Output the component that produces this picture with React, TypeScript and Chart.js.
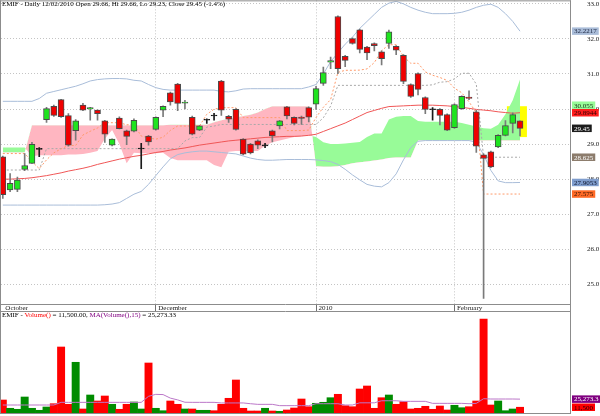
import React, { useEffect, useRef } from 'react';
import { Chart, registerables } from 'chart.js';

Chart.register(...registerables);

// ---------- data ----------
const opens = [
  28.64, 27.69, 27.71, 28.28, 28.45, 28.85, 29.70, 30.08, 30.27, 29.81,
  29.38, 30.11, 30.00, 29.97, 29.66, 28.97, 29.74, 29.38, 29.37, 28.86,
  29.23, 29.42, 29.97, 30.46, 30.71, 30.17, 29.76, 29.40, 29.68, 29.81,
  30.80, 29.79, 29.99, 29.14, 29.00, 29.09, 28.95, 29.38, 29.52, 30.06,
  29.76, 29.77, 30.04, 30.14, 30.73, 31.34, 32.64, 31.50, 32.01, 32.26,
  31.77, 31.87, 31.63, 31.87, 31.79, 31.53, 30.70, 31.01, 30.33, 29.99,
  29.99, 29.84, 29.47, 30.01, 30.34, 29.92, 28.69, 28.78, 28.92, 29.25,
  29.59, 29.66,
];
const highs = [
  28.66, 28.16, 28.06, 28.73, 29.05, 28.90, 30.05, 30.11, 30.28, 29.87,
  29.70, 30.16, 30.05, 29.98, 29.68, 29.15, 29.78, 29.40, 29.72, 29.02,
  29.25, 29.78, 30.09, 30.48, 30.73, 30.25, 29.80, 29.53, 29.72, 29.88,
  30.82, 29.82, 30.01, 29.16, 29.02, 29.12, 29.02, 29.40, 29.68, 30.08,
  29.78, 29.80, 30.06, 30.65, 31.20, 31.48, 32.66, 31.53, 32.03, 32.28,
  31.79, 31.89, 31.66, 32.25, 31.81, 31.55, 30.72, 31.03, 30.35, 30.04,
  30.01, 29.86, 30.15, 30.38, 30.52, 29.96, 28.72, 28.80, 29.27, 29.67,
  29.89, 29.66,
];
const lows = [
  27.45, 27.64, 27.64, 28.24, 28.45, 28.64, 29.62, 29.79, 29.76, 28.94,
  29.11, 29.95, 29.68, 29.68, 29.05, 28.95, 29.43, 28.98, 29.35, 28.30,
  28.97, 29.40, 29.78, 30.11, 29.95, 30.00, 29.26, 29.38, 29.59, 29.68,
  29.82, 29.62, 29.40, 28.69, 28.72, 28.87, 28.90, 29.06, 29.43, 29.72,
  29.55, 29.56, 29.63, 29.99, 30.67, 31.15, 31.01, 31.21, 31.85, 31.60,
  31.41, 31.66, 31.26, 31.73, 31.55, 30.72, 30.33, 30.40, 29.87, 29.68,
  29.55, 29.38, 29.45, 29.99, 30.27, 28.76, 24.60, 28.33, 28.90, 29.23,
  29.32, 29.23,
];
const closes = [
  27.56, 27.88, 27.97, 28.39, 28.99, 28.86, 30.01, 29.82, 29.78, 28.97,
  29.66, 29.97, 30.04, 29.87, 29.28, 29.14, 29.44, 29.22, 29.68, 28.87,
  29.06, 29.76, 30.08, 30.20, 30.16, 30.20, 29.28, 29.52, 29.69, 29.80,
  29.97, 29.71, 29.42, 28.71, 28.75, 28.97, 28.96, 29.23, 29.66, 29.80,
  29.59, 29.73, 29.77, 30.58, 31.04, 31.38, 31.15, 31.39, 31.87, 31.70,
  31.60, 31.81, 31.44, 32.20, 31.68, 30.79, 30.36, 30.56, 29.99, 29.98,
  29.82, 29.40, 30.13, 30.36, 30.30, 28.94, 28.59, 28.35, 29.25, 29.53,
  29.84, 29.45,
];
const volumes = [
  23800, 9700, 8000, 28900, 9700, 6300, 11900, 17500, 113900, 16500,
  87900, 8500, 32300, 22100, 30600, 16500, 8000, 16500, 20400, 8500,
  86700, 9700, 5600, 22100, 16500, 8500, 8500, 6300, 6300, 5600,
  16500, 26700, 57800, 9700, 5100, 5100, 9700, 5100, 4600, 6800,
  10200, 25500, 12400, 18200, 19900, 27700, 33500, 14100, 12400, 42500,
  47600, 9700, 27700, 32300, 16500, 20900, 8500, 9700, 13100, 8000,
  13600, 6800, 14800, 10700, 12400, 22100, 161500, 15300, 22100, 5600,
  8500, 11500,
];
const volumeMA = [
  15300, 15300, 15300, 15300, 15300, 15300, 15300, 15300, 19800, 19800,
  19800, 19800, 19800, 19800, 19800, 19800, 19800, 19800, 19800, 19800,
  30000, 33400, 33000, 27000, 24000, 20000, 19800, 19800, 19800, 19800,
  18800, 18800, 18800, 18800, 17500, 16400, 16400, 16400, 14200, 14200,
  14200, 14200, 14200, 17500, 17500, 17500, 17500, 15300, 15300, 19000,
  19000, 19000, 22500, 22500, 22500, 21500, 21500, 21500, 21500, 18100,
  18100, 18100, 18100, 18100, 17500, 18100, 26000, 25500, 25500, 25500,
  25500, 25273,
];
const bbUpper = [
  30.22, 30.22, 30.22, 30.22, 30.22, 30.30, 30.45, 30.50, 30.55, 30.60,
  30.65, 30.72, 30.80, 30.84, 30.86, 30.87, 30.87, 30.86, 30.82, 30.80,
  30.70, 30.61, 30.56, 30.54, 30.54, 30.54, 30.54, 30.54, 30.54, 30.54,
  30.50, 30.49, 30.52, 30.57, 30.58, 30.58, 30.58, 30.58, 30.58, 30.58,
  30.58, 30.58, 30.63, 30.70, 31.00, 31.35, 31.60, 31.85, 32.05, 32.30,
  32.50, 32.70, 32.90, 33.02, 33.07, 33.00, 32.90, 32.82, 32.76, 32.72,
  32.72, 32.72, 32.73, 32.76, 32.82, 32.90, 32.96, 32.99, 32.90, 32.72,
  32.50, 32.22,
];
const bbLower = [
  27.26, 27.26, 27.26, 27.26, 27.26, 27.26, 27.26, 27.26, 27.26, 27.26,
  27.26, 27.26, 27.26, 27.26, 27.27, 27.29, 27.33, 27.45, 27.57, 27.65,
  27.85, 28.10, 28.35, 28.58, 28.70, 28.75, 28.78, 28.80, 28.80, 28.78,
  28.76, 28.74, 28.72, 28.66, 28.60, 28.56, 28.54, 28.54, 28.55, 28.56,
  28.56, 28.56, 28.56, 28.55, 28.53, 28.50, 28.42, 28.28, 28.12, 27.98,
  27.85, 27.80, 27.78, 27.90, 28.15, 28.55, 28.90, 29.08, 29.10, 29.10,
  29.10, 29.10, 29.10, 29.10, 29.10, 29.05, 28.70, 28.25, 27.95, 27.90,
  27.90, 27.905,
];
const priceMA = [
  28.00, 28.00, 28.01, 28.02, 28.04, 28.07, 28.10, 28.14, 28.18, 28.23,
  28.27, 28.31, 28.36, 28.42, 28.47, 28.52, 28.57, 28.61, 28.65, 28.68,
  28.72, 28.76, 28.79, 28.83, 28.86, 28.89, 28.93, 28.97, 29.00, 29.03,
  29.06, 29.09, 29.11, 29.13, 29.15, 29.17, 29.19, 29.20, 29.21, 29.22,
  29.22, 29.23, 29.25, 29.28, 29.36, 29.44, 29.52, 29.60, 29.70, 29.80,
  29.90, 29.96, 30.02, 30.07, 30.08, 30.09, 30.10, 30.11, 30.11, 30.11,
  30.10, 30.09, 30.07, 30.05, 30.02, 29.99, 29.97, 29.95, 29.92, 29.90,
  29.88, 29.8944,
];
const tenkan = [
  28.73, 28.73, 28.73, 28.73, 28.50, 28.30, 28.55, 28.75, 28.865, 28.96,
  28.96, 29.26, 29.365, 29.46, 29.61, 29.61, 29.61, 29.55, 29.555, 29.23,
  29.175, 29.14, 29.195, 29.39, 29.515, 29.515, 29.515, 29.515, 29.85, 29.995,
  30.04, 30.04, 30.04, 29.755, 29.755, 29.755, 29.755, 29.755, 29.755, 29.385,
  29.385, 29.385, 29.40, 29.76, 30.05, 30.27, 31.045, 31.105, 31.105, 31.11,
  31.145, 31.325, 31.665, 31.835, 31.835, 31.50, 31.305, 31.305, 31.06, 30.965,
  30.90, 30.815, 30.595, 30.465, 30.205, 29.895, 27.575, 27.575, 27.575, 27.575,
  27.575, 27.575,
];
const kijun = [
  28.26, 28.26, 28.26, 28.26, 28.26, 28.26, 28.87, 28.87, 28.87, 28.87,
  28.87, 28.87, 28.87, 28.87, 28.87, 28.87, 28.87, 28.87, 28.87, 28.87,
  28.87, 28.87, 28.87, 28.87, 28.87, 29.09, 29.185, 29.185, 29.485, 29.515,
  29.56, 29.56, 29.56, 29.56, 29.56, 29.56, 29.56, 29.56, 29.56, 29.56,
  29.56, 29.56, 29.56, 29.56, 29.75, 30.085, 30.675, 30.675, 30.675, 30.675,
  30.675, 30.675, 30.675, 30.675, 30.675, 30.675, 30.675, 30.675, 30.675, 30.69,
  30.765, 30.78, 30.86, 31.02, 31.02, 30.71, 28.625, 28.625, 28.625, 28.625,
  28.625, 28.625,
];
const spanA = [
  28.90, 28.90, 28.90, 28.90, 28.65, 28.68, 28.68, 28.68, 28.68, 28.70,
  28.70, 28.72, 28.75, 28.80, 29.15, 29.40, 29.00, 28.45, 28.75, 28.74,
  28.74, 28.74, 28.75, 28.60, 28.54, 28.54, 28.54, 28.54, 28.54, 28.40,
  28.34, 28.78, 28.80, 28.80, 28.80, 28.80, 28.95, 29.05, 29.10, 29.15,
  29.20, 29.22, 29.25, 29.20, 29.05, 29.00, 29.00, 29.02, 29.04, 29.06,
  29.20, 29.30, 29.30, 29.70, 29.78, 29.80, 29.80, 29.66, 29.64, 29.64,
  29.64, 29.64, 29.64, 29.60, 29.55, 29.50, 29.45, 29.44, 29.55, 29.85,
  30.25, 30.84,
];
const spanB = [
  28.76, 28.76, 28.76, 28.76, 29.54, 29.54, 29.54, 29.54, 29.54, 29.54,
  29.54, 29.54, 29.54, 29.54, 29.54, 29.54, 29.54, 29.54, 29.54, 29.54,
  29.54, 29.54, 29.54, 29.55, 29.55, 29.55, 29.55, 29.55, 29.55, 29.62,
  29.68, 29.72, 29.76, 29.80, 29.84, 29.90, 30.00, 30.08, 30.08, 30.08,
  30.08, 30.08, 30.08, 28.37, 28.35, 28.35, 28.37, 28.40, 28.45, 28.48,
  28.50, 28.53, 28.56, 28.60, 28.62, 28.62, 28.62, 29.10, 29.10, 29.10,
  29.10, 29.10, 29.10, 29.10, 29.10, 29.10, 29.10, 29.10, 29.10, 29.10,
  29.10, 29.10,
];

const monthTickIndex = [0, 21, 43, 62];
const monthTickLabels = ['October', 'December', '2010', 'February'];
const priceTicks = [25, 26, 27, 28, 29, 30, 31, 32, 33];

const priceTagValues = [32.2217, 30.055, 29.8944, 29.45, 28.625, 27.9053, 27.575];
const priceTagTexts = ['32.2217', '30.055', '29.8944', '29.45', '28.625', '27.9053', '27.575'];
const priceTagFills = ['#a9bcd8', '#98fb98', '#ff1c1c', '#1c1c1c', '#8c7c6c', '#7f9dcd', '#ff6a26'];
const priceTagInks = ['#1a2440', '#143014', '#300000', '#ffffff', '#ffffff', '#101830', '#301000'];

const volumeTagValues = [25273.3, 11500];
const volumeTagTexts = ['25,273.3', '11,500'];
const volumeTagFills = ['#800080', '#ff0000'];
const volumeTagInks = ['#ffffff', '#200000'];

const highlightRange = [69.2, 71.95];
const highlightBand = [29.2, 30.08];

// ---------- styling ----------
const FONT = '"Liberation Serif", "Times New Roman", serif';
const UP = '#1fe41f';
const DOWN = '#f00000';
const DOJI = '#1a1a1a';
const CLOUD_UP = '#98fb98';
const CLOUD_DOWN = '#ffb6c1';
const GRID = '#c4c4c4';
const FRAME = '#8c8c8c';

const pts = (arr: number[]) => arr.map((y, x) => ({ x, y }));
const isDoji = (i: number) => Math.abs(closes[i] - opens[i]) < 0.015;

const makeFramePlugin = (extendToBottom: boolean) => ({
  id: 'frame',
  afterDraw(chart: any) {
    const { ctx, chartArea: a, height } = chart;
    const bottom = extendToBottom ? height : a.bottom;
    ctx.save();
    ctx.strokeStyle = FRAME;
    ctx.lineWidth = 1;
    ctx.beginPath();
    ctx.moveTo(a.left - 0.5, a.top);
    ctx.lineTo(a.left - 0.5, bottom);
    ctx.moveTo(a.right - 0.5, a.top);
    ctx.lineTo(a.right - 0.5, bottom);
    ctx.moveTo(a.left - 1, a.top + 0.5);
    ctx.lineTo(a.right, a.top + 0.5);
    ctx.moveTo(a.left - 1, a.bottom - 0.5);
    ctx.lineTo(a.right, a.bottom - 0.5);
    ctx.stroke();
    ctx.restore();
  },
});

const makeTagPlugin = (values: number[], texts: string[], fills: string[], inks: string[]) => ({
  id: 'tags',
  afterDraw(chart: any) {
    const { ctx, chartArea } = chart;
    const ys = chart.scales.y;
    const h = 7.5;
    ctx.save();
    ctx.font = `7px ${FONT}`;
    ctx.textBaseline = 'middle';
    const items = values
      .map((v, i) => ({ i, y: ys.getPixelForValue(v) }))
      .sort((a, b) => b.y - a.y);
    let prev = Infinity;
    for (const it of items) {
      if (it.y > prev - h) it.y = prev - h;
      prev = it.y;
    }
    for (const it of items) {
      const w = ctx.measureText(texts[it.i]).width + 4;
      const x = chartArea.right + 1;
      ctx.fillStyle = fills[it.i];
      ctx.fillRect(x, it.y - h / 2, w, h);
      ctx.fillStyle = inks[it.i];
      ctx.fillText(texts[it.i], x + 2, it.y + 0.5);
    }
    ctx.restore();
  },
});

const highlightPlugin = {
  id: 'highlight',
  beforeDatasetsDraw(chart: any) {
    const { ctx } = chart;
    const xs = chart.scales.x;
    const ys = chart.scales.y;
    const x0 = xs.getPixelForValue(highlightRange[0]);
    const x1 = xs.getPixelForValue(highlightRange[1]);
    const y0 = ys.getPixelForValue(highlightBand[1]);
    const y1 = ys.getPixelForValue(highlightBand[0]);
    ctx.save();
    ctx.fillStyle = '#ffff00';
    ctx.fillRect(x0, y0, x1 - x0, y1 - y0);
    ctx.restore();
  },
};

export default function App() {
  const mainRef = useRef<HTMLCanvasElement>(null);
  const volRef = useRef<HTMLCanvasElement>(null);

  useEffect(() => {
    document.body.style.margin = '0';
    const bodyColors = closes.map((c, i) => (isDoji(i) ? DOJI : c > opens[i] ? UP : DOWN));
    const bodyBorders = closes.map((_, i) => (isDoji(i) ? DOJI : '#4a4a4a'));
    const wickColors = closes.map((_, i) => (isDoji(i) ? DOJI : '#7a7a7a'));
    const volColors = closes.map((c, i) => (c >= opens[i] ? '#008c00' : '#ff0000'));

    const lineDs = (data: number[], color: string, extra: any = {}) => ({
      type: 'line',
      data: pts(data),
      borderColor: color,
      borderWidth: 1,
      pointRadius: 0,
      fill: false,
      tension: 0,
      ...extra,
    });

    const main = new Chart(mainRef.current as HTMLCanvasElement, {
      type: 'bar',
      data: {
        datasets: [
          lineDs(spanA, 'rgba(0,0,0,0)', {
            fill: { target: '+1', above: CLOUD_UP, below: CLOUD_DOWN },
            order: 20,
          }),
          lineDs(spanB, 'rgba(0,0,0,0)', { order: 19 }),
          lineDs(bbUpper, '#a9bdd9', { order: 10 }),
          lineDs(bbLower, '#a9bdd9', { order: 10 }),
          lineDs(priceMA, '#f05656', { order: 9 }),
          lineDs(kijun, '#a8a8a8', { borderDash: [2, 2], order: 8 }),
          lineDs(tenkan, '#ff9a6a', { borderDash: [2, 2], order: 7 }),
          {
            type: 'bar',
            data: lows.map((l, i) => ({ x: i, y: [l, highs[i]] })),
            backgroundColor: wickColors,
            borderWidth: 0,
            barThickness: 1,
            grouped: false,
            order: 2,
          },
          {
            type: 'bar',
            data: opens.map((o, i) => ({ x: i, y: [Math.min(o, closes[i]), Math.max(o, closes[i])] })),
            backgroundColor: bodyColors,
            borderColor: bodyBorders,
            borderWidth: 1,
            borderSkipped: false,
            barThickness: 6,
            minBarLength: 1,
            grouped: false,
            order: 1,
          },
        ] as any,
      },
      options: {
        animation: false,
        responsive: true,
        maintainAspectRatio: false,
        layout: { padding: { left: 1, right: 0, top: 0, bottom: 0 } },
        plugins: { legend: { display: false }, tooltip: { enabled: false } },
        scales: {
          x: {
            type: 'linear',
            min: -0.25,
            max: 78,
            offset: false,
            afterBuildTicks: (s: any) => {
              s.ticks = monthTickIndex.map((v) => ({ value: v }));
            },
            afterFit: (s: any) => {
              s.height = 6;
            },
            ticks: {
              autoSkip: false,
              maxRotation: 0,
              align: 'start',
              labelOffset: 2.5,
              padding: -6.5,
              color: '#1a1a1a',
              font: { family: FONT, size: 7, lineHeight: 1 },
              callback: (v: any) => {
                const k = monthTickIndex.indexOf(Number(v));
                return k >= 0 ? monthTickLabels[k] : '';
              },
            },
            grid: {
              offset: false,
              color: (c: any) => (c.index === 0 ? 'rgba(0,0,0,0)' : GRID),
              tickColor: (c: any) => (c.index === 0 ? 'rgba(0,0,0,0)' : '#707070'),
              tickLength: 6,
            },
            border: { display: false, dash: [1, 2] },
          },
          y: {
            type: 'linear',
            position: 'right',
            min: 24.41,
            max: 33.1,
            beginAtZero: false,
            afterBuildTicks: (s: any) => {
              s.ticks = priceTicks.map((v) => ({ value: v }));
            },
            afterFit: (s: any) => {
              s.width = 29;
            },
            ticks: {
              padding: 0,
              color: '#1a1a1a',
              font: { family: FONT, size: 7, lineHeight: 0.1 },
              callback: (v: any) => Number(v).toFixed(1),
            },
            grid: { color: GRID, tickColor: 'rgba(0,0,0,0)', tickLength: 16 },
            border: { display: false, dash: [1, 2] },
          },
        } as any,
      },
      plugins: [
        highlightPlugin,
        makeFramePlugin(true),
        makeTagPlugin(priceTagValues, priceTagTexts, priceTagFills, priceTagInks),
      ],
    } as any);

    const vol = new Chart(volRef.current as HTMLCanvasElement, {
      type: 'bar',
      data: {
        datasets: [
          {
            type: 'line',
            data: pts(volumeMA),
            borderColor: '#bb77c8',
            borderWidth: 1,
            pointRadius: 0,
            fill: false,
            order: 0,
          },
          {
            type: 'bar',
            data: pts(volumes),
            backgroundColor: volColors,
            borderWidth: 0,
            grouped: false,
            barPercentage: 1,
            categoryPercentage: 1,
            order: 1,
          },
        ] as any,
      },
      options: {
        animation: false,
        responsive: true,
        maintainAspectRatio: false,
        layout: { padding: { left: 1, right: 29, top: 0, bottom: 2 } },
        plugins: { legend: { display: false }, tooltip: { enabled: false } },
        scales: {
          x: { type: 'linear', min: -0.25, max: 78, offset: false, display: false },
          y: { type: 'linear', min: 0, max: 175100, display: false },
        } as any,
      },
      plugins: [
        makeFramePlugin(false),
        makeTagPlugin(volumeTagValues, volumeTagTexts, volumeTagFills, volumeTagInks),
      ],
    } as any);

    return () => {
      main.destroy();
      vol.destroy();
    };
  }, []);

  const textStyle: React.CSSProperties = {
    position: 'absolute',
    left: 2,
    fontFamily: FONT,
    fontSize: 7,
    lineHeight: '9px',
    whiteSpace: 'nowrap',
    color: '#000',
    pointerEvents: 'none',
  };

  return (
    <div style={{ position: 'fixed', left: 0, top: 0, width: 600, height: 416, background: '#fff' }}>
      <div style={{ position: 'absolute', left: 0, top: 0, width: 600, height: 311 }}>
        <canvas ref={mainRef} />
      </div>
      <div style={{ position: 'absolute', left: 0, top: 311, width: 600, height: 105 }}>
        <canvas ref={volRef} />
      </div>
      <div style={{ ...textStyle, top: 0 }}>
        EMIF - Daily 12/02/2010 Open 29.66, Hi 29.66, Lo 29.23, Close 29.45 (-1.4%)
      </div>
      <div style={{ ...textStyle, top: 311 }}>
        EMIF - <span style={{ color: '#ff0000' }}>Volume()</span> = 11,500.00,{' '}
        <span style={{ color: '#800080' }}>MA(Volume(),15)</span> = 25,273.33
      </div>
    </div>
  );
}
